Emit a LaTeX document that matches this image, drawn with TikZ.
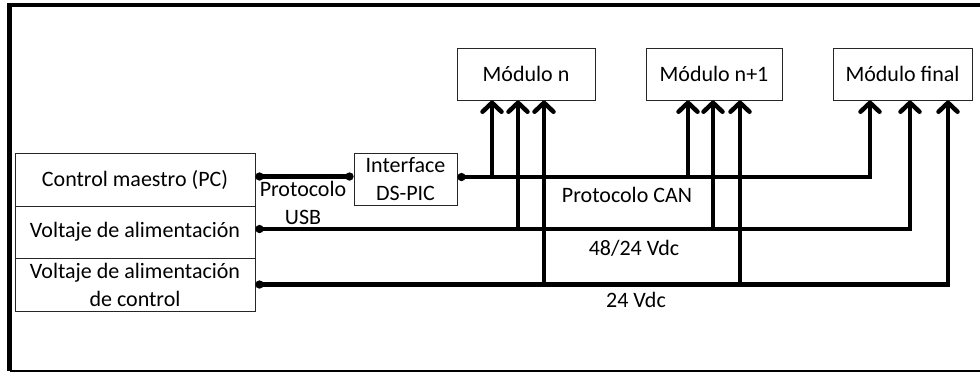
\documentclass[tikz,border=0pt]{standalone}
\usepackage{fontspec}
\setmainfont{Carlito}
\usetikzlibrary{arrows.meta}

\tikzset{
    box/.style={
        draw=black!85,
        line width=1pt,
        inner sep=0pt,
        align=center,
        font=\fontsize{22}{28}\selectfont
    },
    lbl/.style={inner sep=0pt, align=center, font=\fontsize{22}{28}\selectfont},
    bus/.style={line width=4.5pt},
    feed/.style={bus, -{Straight Barb[round,length=9pt,width=19pt]}},
    busfeed/.style={bus, {Circle[length=8pt]}-{Straight Barb[round,length=9pt,width=19pt]}}
}

\begin{document}
\begin{tikzpicture}[x=1pt, y=-1pt]
    \useasboundingbox (0,0) rectangle (980,373);

    % marco
    \draw[line width=4.5pt] (980,5) -- (9.5,5) -- (9.5,371);
    \draw[line width=1.5pt] (9.5,371) -- (980,371);

    % bloques de la izquierda
    \node[box, minimum width=240pt, minimum height=53pt] (master) at (135,179.5) {Control maestro (PC)};
    \node[box, minimum width=240pt, minimum height=52pt] (volt) at (135,232) {Voltaje de alimentación};
    \node[box, minimum width=240pt, minimum height=53pt] (ctrl) at (135,284.5) {Voltaje de alimentación\\de control};
    \node[box, minimum width=103pt, minimum height=52pt] (iface) at (405.5,179) {Interface\\DS-PIC};

    % modulos
    \node[box, minimum width=138pt, minimum height=52pt] (modn) at (526,74) {Módulo n};
    \node[box, minimum width=136pt, minimum height=52pt] (modm) at (714,74) {Módulo n+1};
    \node[box, minimum width=139pt, minimum height=52pt] (modf) at (902.5,74) {Módulo final};

    % USB
    \draw[bus, {Circle[length=8pt]}-{Circle[length=8pt]}] ([yshift=3pt]master.east) -- ([yshift=3pt]master.east -| iface.west);
    \node[lbl] (usb) at (303,203) {Protocolo\\USB};

    % CAN
    \draw[busfeed] ([yshift=2pt]iface.east) -| ([xshift=-32.5pt]modf.south);
    \coordinate (canA) at (492,177);
    \coordinate (canB) at (688,177);
    \draw[feed] (canA) -- (canA |- modn.south);
    \draw[feed] (canB) -- (canB |- modm.south);
    \node[lbl] (can) at (627,195) {Protocolo CAN};

    % 48/24 Vdc
    \draw[busfeed] ([yshift=3pt]volt.east) -| ([xshift=7.5pt]modf.south);
    \coordinate (pwrA) at (518,229);
    \coordinate (pwrB) at (713,229);
    \draw[feed] (pwrA) -- (pwrA |- modn.south);
    \draw[feed] (pwrB) -- (pwrB |- modm.south);
    \node[lbl] (v48) at (634,248) {48/24 Vdc};

    % 24 Vdc
    \draw[busfeed] (ctrl.east) -| ([xshift=45.5pt]modf.south);
    \coordinate (auxA) at (544,284.5);
    \coordinate (auxB) at (740,284.5);
    \draw[feed] (auxA) -- (auxA |- modn.south);
    \draw[feed] (auxB) -- (auxB |- modm.south);
    \node[lbl] (v24) at (636,300) {24 Vdc};
\end{tikzpicture}
\end{document}
